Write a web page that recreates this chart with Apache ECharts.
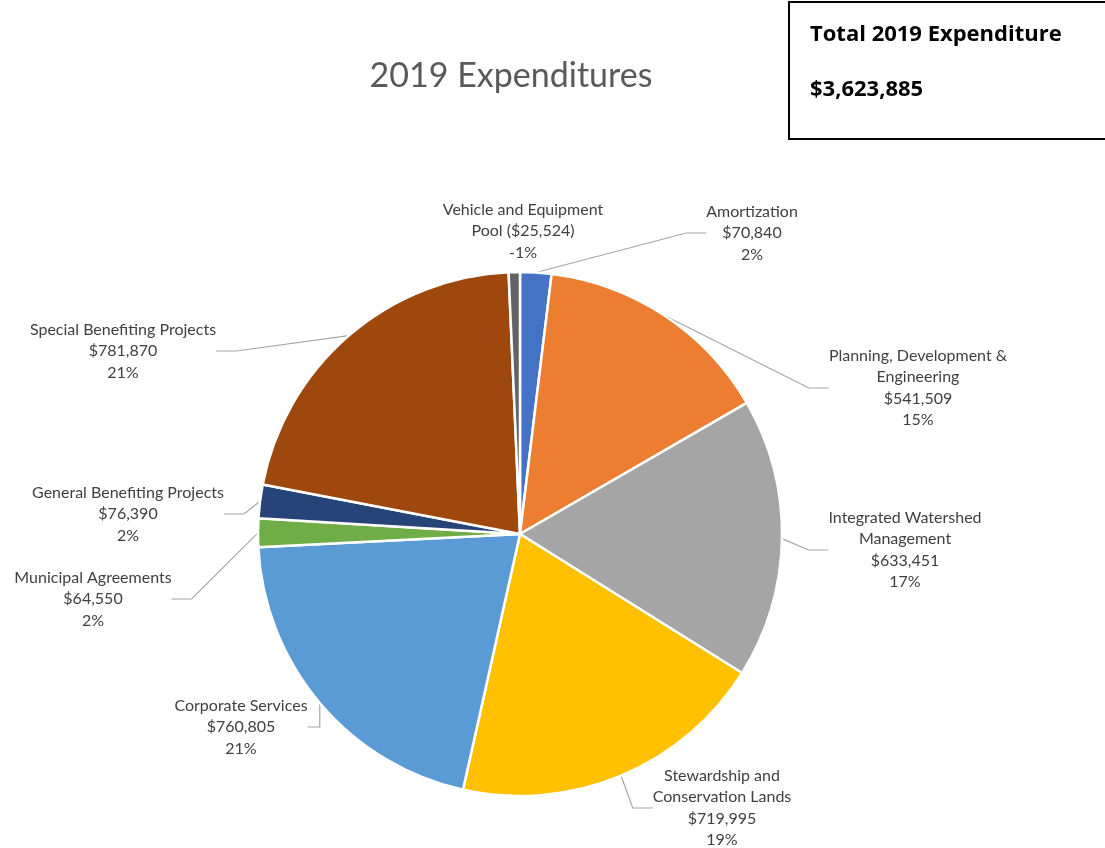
<!DOCTYPE html>
<html>
<head>
<meta charset="utf-8">
<script src="https://cdn.jsdelivr.net/npm/echarts@6/dist/echarts.min.js"></script>
<style>html,body{margin:0;padding:0;background:#fff;}#c{width:1105px;height:848px;}</style>
</head>
<body>
<div id="c"></div>
<script>
// Data
var categories = ['Amortization','Planning, Development & Engineering','Integrated Watershed Management','Stewardship and Conservation Lands','Corporate Services','Municipal Agreements','General Benefiting Projects','Special Benefiting Projects','Vehicle and Equipment Pool'];
var labelNames = ['Amortization','Planning, Development &\nEngineering','Integrated Watershed\nManagement','Stewardship and\nConservation Lands','Corporate Services','Municipal Agreements','General Benefiting Projects','Special Benefiting Projects','Vehicle and Equipment\nPool'];
var amounts = [70840, 541509, 633451, 719995, 760805, 64550, 76390, 781870, -25524];
var percentLabels = ['2%','15%','17%','19%','21%','2%','2%','21%','-1%'];
var totalExpenditure = '$3,623,885';

// Styles / layout
var colors = ['#4472C4','#ED7D31','#A5A5A5','#FFC000','#5B9BD5','#70AD47','#264478','#9E480E','#636363'];
var labelPos = [[752,233],[918,388],[905,550],[722,808],[241,727],[93,599],[128,514],[123,351],[523,231]];

function money(v){
  var s = '$' + Math.abs(v).toString().replace(/\B(?=(\d{3})+(?!\d))/g, ',');
  return v < 0 ? '(' + s + ')' : s;
}

var pieData = categories.map(function(c, i){
  var d = {name: c, value: Math.abs(amounts[i]), itemStyle: {color: colors[i]}};
  if (i === 8) d.labelLine = {show: false};
  return d;
});

var chart = echarts.init(document.getElementById('c'));
chart.setOption({
  backgroundColor: '#fff',
  animation: false,
  title: {
    text: '2019 Expenditures', left: 506, top: 54, textAlign: 'center',
    textStyle: {fontFamily: 'Lato', fontWeight: 'normal', fontSize: 34, color: '#595959'}
  },
  graphic: [
    {type: 'rect', shape: {x: 789, y: 2, width: 320, height: 137}, style: {fill: '#fff', stroke: '#000', lineWidth: 2}},
    {type: 'text', left: 810, top: 24, style: {text: 'Total 2019 Expenditure', font: 'bold 22px "Open Sans"', fill: '#000'}},
    {type: 'text', left: 810, top: 79, style: {text: totalExpenditure, font: 'bold 22px "Open Sans"', fill: '#000'}}
  ],
  series: [{
    type: 'pie',
    center: [520, 534],
    radius: 262,
    startAngle: 90,
    clockwise: true,
    data: pieData,
    itemStyle: {borderColor: '#fff', borderWidth: 2.5},
    label: {
      show: true,
      position: 'outside',
      formatter: function(p){
        var i = p.dataIndex;
        var v = amounts[i];
        if (i === 8) return labelNames[i] + ' ' + money(v) + '\n' + percentLabels[i];
        return labelNames[i] + '\n' + money(v) + '\n' + percentLabels[i];
      },
      fontFamily: 'Lato',
      fontSize: 16,
      lineHeight: 21.5,
      color: '#404040',
      align: 'center'
    },
    labelLine: {show: true, length: 20, length2: 20, lineStyle: {color: '#A6A6A6', width: 1.2}},
    labelLayout: function(params){
      var p = labelPos[params.dataIndex];
      return {x: p[0], y: p[1], align: 'center', verticalAlign: 'middle', hideOverlap: false, moveOverlap: null};
    }
  }]
});
</script>
</body>
</html>
